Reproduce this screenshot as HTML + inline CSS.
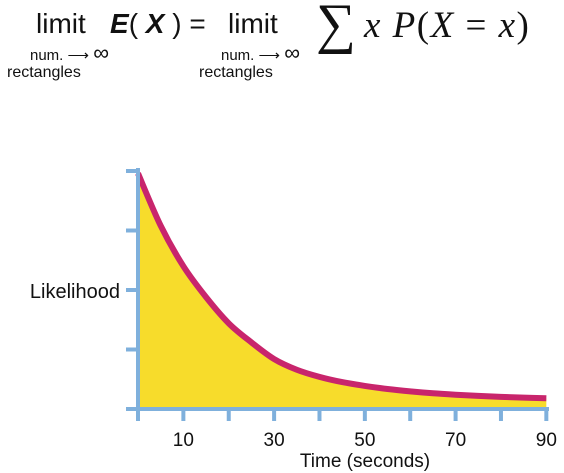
<!DOCTYPE html>
<html><head><meta charset="utf-8"><style>
body{margin:0;background:#fff;width:564px;height:473px;overflow:hidden;font-family:"Liberation Sans",sans-serif}
.t{position:absolute;white-space:nowrap;color:#111}
</style></head><body>
<div>
<div class="t" style="left:36px;top:8px;font-size:28px">limit</div>
<div class="t" style="left:30px;top:40px;font-size:15px">num. ⟶ <span style="font-size:22px">∞</span></div>
<div class="t" style="left:7px;top:64px;font-size:16px">rectangles</div>
<div class="t" style="left:110px;top:8px;font-size:28px"><b><i>E</i></b>( <b><i>X</i></b> ) =</div>
<div class="t" style="left:228px;top:8px;font-size:28px">limit</div>
<div class="t" style="left:221px;top:40px;font-size:15px">num. ⟶ <span style="font-size:22px">∞</span></div>
<div class="t" style="left:199px;top:64px;font-size:16px">rectangles</div>
<div class="t" style="left:316px;top:-8px;font-size:56px;font-family:'Liberation Serif',serif">∑</div>
<div class="t" style="left:364px;top:4px;font-size:37px;letter-spacing:1.5px;font-family:'Liberation Serif',serif"><i>x P</i>(<i>X</i> = <i>x</i>)</div>
</div>
<svg id="c" width="564" height="473" style="position:absolute;left:0;top:0"></svg>
<script>
const times=[0,5,10,15,20,25,30,35,40,45,50,55,60,65,70,75,80,85,90];
const likelihood=[0.99,0.77,0.6,0.47,0.36,0.28,0.21,0.165,0.135,0.113,0.097,0.084,0.074,0.066,0.06,0.055,0.051,0.048,0.045];
const xTicks=[10,30,50,70,90];
const xMinor=[0,20,40,60,80];
const yTicks=[0,0.25,0.5,0.75,1];
const X=t=>138+t*4.537, Y=v=>409-v*238;
const s=document.getElementById('c'),NS='http://www.w3.org/2000/svg';
function mk(tag,a,name){const e=document.createElementNS(NS,tag);for(const k in a)e.setAttribute(k,a[k]);


s.appendChild(e);return e;}
const P=times.map((t,i)=>[X(t),Y(likelihood[i])]);
function smooth(){let d='M'+P[0][0]+','+P[0][1];
for(let i=0;i<P.length-1;i++){const p0=P[Math.max(0,i-1)],p1=P[i],p2=P[i+1],p3=P[Math.min(P.length-1,i+2)];
d+=' C'+(p1[0]+(p2[0]-p0[0])/6)+','+(p1[1]+(p2[1]-p0[1])/6)+' '+(p2[0]-(p3[0]-p1[0])/6)+','+(p2[1]-(p3[1]-p1[1])/6)+' '+p2[0]+','+p2[1];}
return d;}
const l=smooth();
mk('path',{d:l+' L'+X(90)+','+Y(0)+' L'+X(0)+','+Y(0)+'Z',fill:'#f7dc2b'},'area-fill');
mk('path',{d:l,fill:'none',stroke:'#c8256c','stroke-width':6,'stroke-linejoin':'round'},'likelihood-curve');
mk('line',{x1:138,y1:168,x2:138,y2:412,stroke:'#7fb0dc','stroke-width':4},'y-axis');
mk('line',{x1:126,y1:409,x2:549,y2:409,stroke:'#7fb0dc','stroke-width':4},'x-axis');
yTicks.forEach(v=>mk('line',{x1:126,y1:Y(v),x2:138,y2:Y(v),stroke:'#7fb0dc','stroke-width':4},'y-tick'));
xTicks.concat(xMinor).forEach(t=>mk('line',{x1:X(t),y1:409,x2:X(t),y2:421,stroke:'#7fb0dc','stroke-width':4},'x-tick'));
xTicks.forEach(t=>{const e=mk('text',{x:X(t),y:446,'text-anchor':'middle','font-size':19,fill:'#111'},'x-tick-label');e.textContent=t;});
let e=mk('text',{x:365,y:467,'text-anchor':'middle','font-size':19,fill:'#111'},'x-axis-title');e.textContent='Time (seconds)';
e=mk('text',{x:120,y:298,'text-anchor':'end','font-size':20,fill:'#111'},'y-axis-title');e.textContent='Likelihood';
</script>
</body></html>
